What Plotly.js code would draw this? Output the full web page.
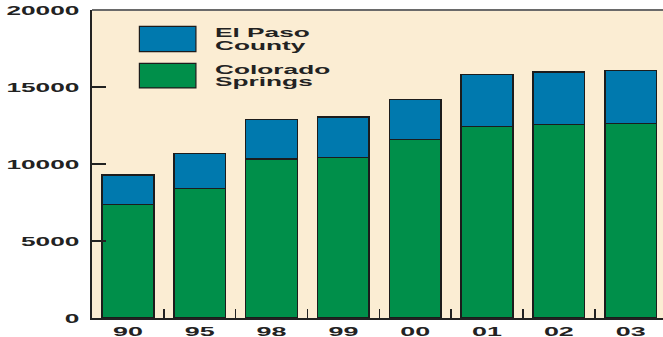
<!DOCTYPE html>
<html>
<head>
<meta charset="utf-8">
<script src="https://cdn.plot.ly/plotly-3.0.1.min.js"></script>
<style>
  html, body { margin: 0; padding: 0; background: #ffffff; }
  #chart { width: 663px; height: 337px; }
</style>
</head>
<body>
<div id="chart"></div>
<script>
// ---- data ----
const years = ["90", "95", "98", "99", "00", "01", "02", "03"];
const coloradoSprings = [7380, 8420, 10310, 10430, 11600, 12420, 12580, 12620];
const elPasoCounty = [1890, 2270, 2590, 2620, 2600, 3400, 3410, 3460];
const yTickValues = [0, 5000, 10000, 15000, 20000];
const yTickLabels = ["0", "5000", "10000", "15000", "20000"];
const seriesNames = ["Colorado\u00a0Springs", "El Paso County"];

const GREEN = "#008f4a";
const BLUE = "#0079ae";
const OUTLINE = "#1c1c1c";
const CREAM = "#fbedd3";
const FONT = { family: "Liberation Sans, Arial, sans-serif", size: 13, color: "#222222", weight: 700 };

const traces = [
  {
    type: "bar", name: "Colorado Springs", x: years, y: coloradoSprings,
    marker: { color: GREEN, line: { color: OUTLINE, width: 1.5 } },
    width: 0.72, showlegend: false, hoverinfo: "skip"
  },
  {
    type: "bar", name: "El Paso County", x: years, y: elPasoCounty,
    marker: { color: BLUE, line: { color: OUTLINE, width: 1.5 } },
    width: 0.72, showlegend: false, hoverinfo: "skip"
  }
];

const legendItems = [
  { color: BLUE, lines: ["El Paso", "County"], y0: 0.865, y1: 0.947 },
  { color: GREEN, lines: ["Colorado", "Springs"], y0: 0.747, y1: 0.827 }
];

const shapes = [
  { type: "line", xref: "paper", yref: "paper", x0: 0, x1: 1, y0: 1, y1: 1,
    line: { color: "#6a6a6a", width: 2 } }
];
const annotations = [];
legendItems.forEach(it => {
  shapes.push({ type: "rect", xref: "paper", yref: "paper",
    x0: 0.083, x1: 0.182, y0: it.y0, y1: it.y1,
    fillcolor: it.color, line: { color: OUTLINE, width: 1.2 } });
  const mid = (it.y0 + it.y1) / 2;
  annotations.push({ xref: "paper", yref: "paper", x: 0.212, y: mid + 0.02,
    xanchor: "left", yanchor: "middle", text: it.lines[0], showarrow: false,
    font: FONT });
  annotations.push({ xref: "paper", yref: "paper", x: 0.212, y: mid - 0.02,
    xanchor: "left", yanchor: "middle", text: it.lines[1], showarrow: false,
    font: FONT });
});

const layout = {
  width: 663, height: 337,
  margin: { l: 92, r: 0, t: 10, b: 19, pad: 0 },
  paper_bgcolor: "#ffffff",
  plot_bgcolor: CREAM,
  barmode: "stack",
  bargap: 0.28,
  font: FONT,
  xaxis: {
    type: "category", range: [-0.5, 7.45], fixedrange: true,
    showline: true, linecolor: "#222222", linewidth: 2,
    ticks: "inside", tickson: "boundaries", ticklen: 9, tickwidth: 1.5, tickcolor: "#222222",
    showgrid: false, zeroline: false, tickfont: FONT, ticklabelstandoff: 0
  },
  yaxis: {
    range: [0, 20000], fixedrange: true,
    tickmode: "array", tickvals: yTickValues, ticktext: yTickLabels,
    showline: true, linecolor: "#222222", linewidth: 2,
    ticks: "inside", ticklen: 14, tickwidth: 1.5, tickcolor: "#222222",
    showgrid: false, zeroline: false, tickfont: FONT, ticklabelstandoff: 8
  },
  shapes: shapes,
  annotations: annotations,
  showlegend: false
};

function stretch(selector, factor, mode) {
  document.querySelectorAll(selector).forEach(t => {
    const b = t.getBBox();
    let ax;
    if (mode === "right") ax = b.x + b.width;
    else if (mode === "left") ax = b.x;
    else ax = b.x + b.width / 2;
    const prev = t.getAttribute("transform") || "";
    t.setAttribute("transform",
      prev + " translate(" + ax + ",0) scale(" + factor + ",1) translate(" + (-ax) + ",0)");
  });
}

Plotly.newPlot("chart", traces, layout, { staticPlot: true, displayModeBar: false }).then(() => {
  stretch(".xtick text", 2.07, "center");
  stretch(".ytick text", 2.02, "right");
  stretch(".annotation-text", 2.02, "left");
});
</script>
</body>
</html>
